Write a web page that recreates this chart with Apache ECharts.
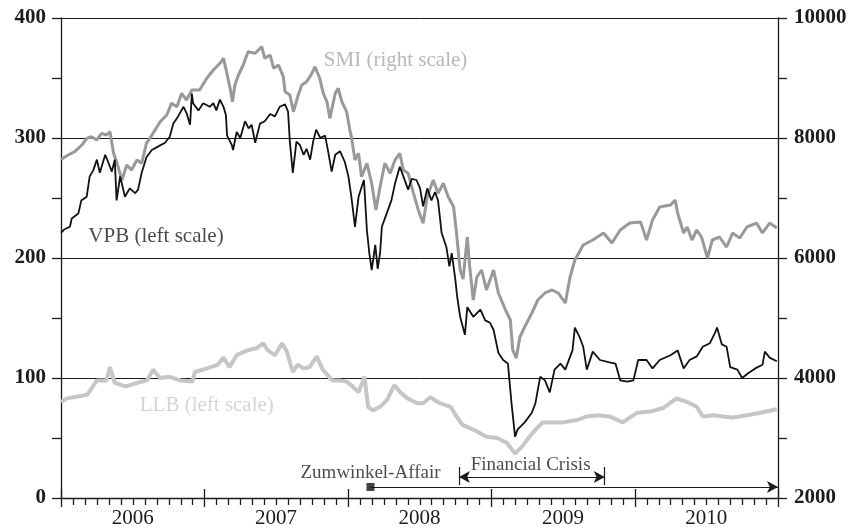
<!DOCTYPE html>
<html>
<head>
<meta charset="utf-8">
<script src="https://cdn.jsdelivr.net/npm/echarts@6/dist/echarts.min.js"></script>
<style>html,body{margin:0;padding:0;background:#fff}#c{width:857px;height:530px}</style>
</head>
<body>
<div id="c"></div>
<script>
// x values are months since January 2006
const yearLabels = ['2006', '2007', '2008', '2009', '2010'];
const monthTicks = [];
for (let m = 0; m <= 60; m++) monthTicks.push(m);
const leftTicks = [0, 50, 100, 150, 200, 250, 300, 350, 400];
const rightTicks = [2000, 3000, 4000, 5000, 6000, 7000, 8000, 9000, 10000];

const vpbMonths = [0.0,0.3,0.75,0.9,1.45,1.7,2.15,2.4,2.7,3.0,3.25,3.7,3.95,4.25,4.5,4.65,4.95,5.35,5.75,6.2,6.45,6.75,7.15,7.6,8.15,8.7,9.1,9.4,9.8,10.25,10.5,10.8,10.95,11.05,11.5,11.9,12.05,12.45,12.75,13.0,13.3,13.6,13.8,13.9,14.3,14.4,14.7,15.0,15.4,15.7,15.95,16.25,16.65,17.05,17.5,17.9,18.3,18.75,19.0,19.15,19.4,19.7,20.0,20.3,20.55,20.85,21.1,21.35,21.7,22.1,22.35,22.65,22.95,23.35,23.75,24.05,24.3,24.6,24.9,25.15,25.35,25.6,25.8,26.0,26.3,26.5,26.7,26.85,27.25,27.65,27.95,28.35,28.65,29.05,29.35,29.75,30.05,30.3,30.65,31.0,31.3,31.55,31.85,32.25,32.5,32.7,33.0,33.15,33.4,33.8,34.0,34.5,35.1,35.5,35.9,36.2,36.6,37.0,37.4,37.7,38.0,38.2,38.8,39.4,39.7,40.1,40.5,40.9,41.3,41.8,42.2,42.8,43.0,43.4,43.7,44.0,44.5,45.1,45.9,46.4,46.8,47.4,47.9,48.3,49.0,49.5,50.1,51.0,51.6,52.1,52.6,53.2,53.7,54.3,54.7,54.9,55.3,55.7,56.0,56.6,57.0,57.5,58.1,58.7,58.9,59.3,59.9];
const vpbValues = [221,224,226,233,237,248,251,268,273,282,271,286,280,272,282,248,268,251,258,254,257,271,284,290,293,296,301,312,318,326,321,311,337,329,323,329,330,326,329,323,332,326,319,302,294,290,305,300,314,308,311,296,312,314,320,318,326,328,322,297,271,297,294,286,291,282,297,307,300,302,289,272,286,289,280,268,251,226,251,259,265,223,204,190,211,191,204,226,237,248,262,276,268,257,266,265,258,243,258,248,255,248,221,209,193,204,182,168,151,136,159,151,157,148,146,140,121,115,112,79,51,57,63,71,79,101,98,88,107,112,107,123,142,134,126,107,122,115,113,112,98,97,98,115,115,108,115,119,123,108,115,118,126,129,137,142,128,126,109,107,100,104,108,111,122,117,114];

const smiMonths = [0.0,0.6,1.15,1.75,2.15,2.55,3.0,3.4,3.8,4.1,4.4,4.65,5.1,5.5,5.9,6.35,6.75,7.15,7.7,8.3,8.85,9.25,9.7,10.1,10.5,10.95,11.6,12.2,12.75,13.3,13.6,13.85,14.15,14.35,14.55,14.85,15.25,15.65,16.25,16.8,17.05,17.5,17.8,18.2,18.6,18.75,19.15,19.45,19.85,20.15,20.55,21.0,21.25,21.65,21.95,22.25,22.5,22.95,23.2,23.5,23.9,24.2,24.3,24.6,24.9,25.15,25.6,26.0,26.35,26.7,27.1,27.55,27.95,28.35,28.65,29.05,29.5,29.9,30.3,30.65,31.15,31.55,32.0,32.4,32.85,33.1,33.4,33.65,34.0,34.2,34.5,34.8,35.2,35.6,36.2,36.6,37.2,37.6,37.8,38.1,38.4,38.8,39.4,39.9,40.5,41.1,41.6,42.2,42.6,43.0,43.7,44.5,45.4,46.1,46.8,47.6,48.5,49.0,49.5,50.1,51.0,51.4,51.6,52.1,52.4,52.8,53.2,53.6,54.1,54.5,55.1,55.7,56.2,56.8,57.4,58.2,58.7,59.3,59.9];
const smiValues = [7640,7717,7772,7883,7995,8022,7967,8078,8050,8105,7745,7605,7300,7550,7467,7633,7578,7911,8078,8272,8383,8578,8522,8745,8633,8800,8800,8995,9133,9245,9328,9105,8828,8605,8883,9050,9217,9438,9412,9522,9328,9383,9162,9217,9022,8772,8717,8438,8717,8883,8938,9078,9188,8995,8745,8605,8328,8745,8828,8605,8438,8105,8022,7633,7745,7355,7578,7245,6800,7188,7578,7412,7633,7745,7467,7412,7078,6800,6578,7022,7300,7078,7245,7022,6855,6412,5800,5650,6350,5855,5300,5683,5800,5467,5800,5417,5133,4967,4467,4333,4683,4850,5083,5300,5417,5467,5417,5250,5683,5967,6217,6300,6417,6250,6467,6583,6600,6300,6633,6850,6883,6967,6750,6417,6517,6300,6467,6350,6000,6300,6350,6183,6417,6333,6517,6583,6417,6583,6500];

const llbMonths = [0.0,0.5,2.2,3.0,3.8,4.1,4.5,5.4,6.4,7.2,7.7,8.3,9.1,10.0,11.0,11.2,12.2,13.1,13.6,14.1,14.7,15.6,16.4,16.9,17.3,17.9,18.5,18.9,19.4,19.8,20.3,20.8,21.4,21.9,22.7,23.3,23.9,24.4,24.9,25.4,25.7,26.1,26.7,27.3,27.9,28.4,29.0,29.8,30.3,30.9,31.7,32.6,33.1,33.6,34.5,35.6,36.5,37.3,38.0,38.6,39.2,39.8,40.3,40.9,42.0,43.2,44.0,44.9,45.9,47.0,48.2,49.3,50.4,51.5,52.4,53.2,53.7,54.6,55.4,56.2,57.4,58.5,59.9];
const llbValues = [80,83,86,98,98,109,96,93,96,98,107,100,101,98,97,105,108,111,117,109,119,123,125,129,123,119,129,122,105,111,108,109,118,107,98,98,97,93,88,101,76,73,76,82,94,88,83,79,79,84,79,76,68,61,57,51,50,46,37,43,51,58,63,63,63,65,68,69,68,63,71,72,75,83,80,76,68,69,68,67,69,71,74];

// event annotations (months, left-scale values)
const zumwinkelStart = 25.9, zumwinkelLevel = 9.2;
const crisisStart = 33.3, crisisEnd = 45.5, crisisLevel = 17.5, crisisBarLow = 10.8, crisisBarHigh = 25.8;

const pairs = (xs, ys) => xs.map((x, i) => [x, ys[i]]);

const serif = 'Liberation Serif';
const ink = '#1e1a1a';

const chart = echarts.init(document.getElementById('c'), null, {renderer: 'canvas'});

const textItems = [
  {text: 'SMI (right scale)', at: [28.0, 365], color: '#a6a6a6', size: 21},
  {text: 'VPB (left scale)', at: [7.95, 218], color: ink, size: 21},
  {text: 'LLB (left scale)', at: [12.2, 77], color: '#cacaca', size: 21},
  {text: 'Zumwinkel-Affair', at: [25.9, 21], color: ink, size: 19},
  {text: 'Financial Crisis', at: [39.3, 27.3], color: ink, size: 19}
];

const hiddenX = (extra) => Object.assign({
  type: 'value', min: 0, max: 60, position: 'bottom',
  axisLine: {show: false, onZero: false},
  axisLabel: {show: false},
  splitLine: {show: false}
}, extra);

// tick marks drawn through the axes' own scales
function tickSeries(yAxisIndex, points, shapeFn) {
  return {
    type: 'custom', xAxisIndex: 0, yAxisIndex: yAxisIndex, silent: true, clip: false, z: 10,
    data: points,
    renderItem: (params, api) => {
      const p = api.coord([api.value(0), api.value(1)]);
      const s = shapeFn(p, api.value(0), api.value(1));
      return {type: 'line', shape: s, style: {stroke: ink, lineWidth: 1.3}};
    }
  };
}

chart.setOption({
  animation: false,
  backgroundColor: '#fff',
  grid: {left: 61, right: 79, top: 18, bottom: 32, containLabel: false},
  xAxis: [
    {
      type: 'value', min: 0, max: 60, interval: 12, position: 'bottom',
      axisLine: {show: true, onZero: false, lineStyle: {color: ink, width: 1.3}},
      axisTick: {show: false},
      axisLabel: {show: false},
      splitLine: {show: false}
    },
    hiddenX({
      interval: 6, axisTick: {show: false},
      axisLabel: {
        show: true, margin: 10, fontFamily: serif, fontSize: 21, color: ink,
        formatter: v => (v % 12 === 6 ? yearLabels[(v - 6) / 12] : '')
      }
    })
  ],
  yAxis: [
    {
      type: 'value', min: 0, max: 400, interval: 100, position: 'left',
      axisLine: {show: true, onZero: false, lineStyle: {color: ink, width: 1.3}},
      axisTick: {show: false},
      axisLabel: {margin: 15, fontFamily: serif, fontWeight: 'bold', fontSize: 21, color: ink},
      splitLine: {show: true, lineStyle: {color: ink, width: 1}}
    },
    {
      type: 'value', min: 2000, max: 10000, interval: 1000, position: 'right',
      axisLine: {show: true, onZero: false, lineStyle: {color: ink, width: 1.3}},
      axisTick: {show: false},
      axisLabel: {
        margin: 16, fontFamily: serif, fontWeight: 'bold', fontSize: 21, color: ink,
        formatter: v => (v % 2000 === 0 ? String(v) : '')
      },
      splitLine: {show: false}
    }
  ],
  series: [
    {
      name: 'LLB', type: 'line', xAxisIndex: 0, yAxisIndex: 0,
      data: pairs(llbMonths, llbValues), showSymbol: false, symbol: 'none',
      lineStyle: {color: '#c6c6c6', width: 4}, z: 2
    },
    {
      name: 'SMI', type: 'line', xAxisIndex: 0, yAxisIndex: 1,
      data: pairs(smiMonths, smiValues), showSymbol: false, symbol: 'none',
      lineStyle: {color: '#999999', width: 3}, z: 3
    },
    {
      name: 'VPB', type: 'line', xAxisIndex: 0, yAxisIndex: 0,
      data: pairs(vpbMonths, vpbValues), showSymbol: false, symbol: 'none',
      lineStyle: {color: '#111111', width: 1.8}, z: 4
    },
    {
      name: 'events', type: 'scatter', xAxisIndex: 0, yAxisIndex: 0, z: 5,
      symbol: 'rect', symbolSize: 8, itemStyle: {color: '#111'},
      data: [[zumwinkelStart, zumwinkelLevel]],
      markLine: {
        silent: true, animation: false,
        symbolSize: [9, 11],
        label: {show: false},
        lineStyle: {color: ink, width: 1.2, type: 'solid'},
        data: [
          [{coord: [zumwinkelStart, zumwinkelLevel], symbol: 'none'}, {coord: [60, zumwinkelLevel], symbol: 'arrow'}],
          [{coord: [crisisStart, crisisLevel], symbol: 'arrow'}, {coord: [crisisEnd, crisisLevel], symbol: 'arrow'}],
          [{coord: [crisisStart, crisisBarLow], symbol: 'none'}, {coord: [crisisStart, crisisBarHigh], symbol: 'none'}],
          [{coord: [crisisEnd, crisisBarLow], symbol: 'none'}, {coord: [crisisEnd, crisisBarHigh], symbol: 'none'}]
        ]
      }
    },
    {
      name: 'labels', type: 'scatter', xAxisIndex: 0, yAxisIndex: 0, z: 6,
      symbolSize: 0, silent: true,
      data: textItems.map(t => ({
        value: t.at,
        label: {show: true, position: 'inside', formatter: t.text, color: t.color, fontSize: t.size, fontFamily: serif}
      }))
    },
    // month ticks below the time axis; year ticks cross the axis
    tickSeries(0, monthTicks.map(m => [m, 0]), (p, m) => (m % 12 === 0
      ? {x1: Math.round(p[0]) + 0.5, y1: p[1] - 9, x2: Math.round(p[0]) + 0.5, y2: p[1] + 9}
      : {x1: Math.round(p[0]) + 0.5, y1: p[1], x2: Math.round(p[0]) + 0.5, y2: p[1] + 7})),
    // left scale ticks
    tickSeries(0, leftTicks.map(v => [0, v]), p => ({x1: p[0] - 9, y1: Math.round(p[1]) + 0.5, x2: p[0], y2: Math.round(p[1]) + 0.5})),
    // right scale ticks
    tickSeries(1, rightTicks.map(v => [60, v]), p => ({x1: p[0], y1: Math.round(p[1]) + 0.5, x2: p[0] + 9, y2: Math.round(p[1]) + 0.5}))
  ]
});
</script>
</body>
</html>
